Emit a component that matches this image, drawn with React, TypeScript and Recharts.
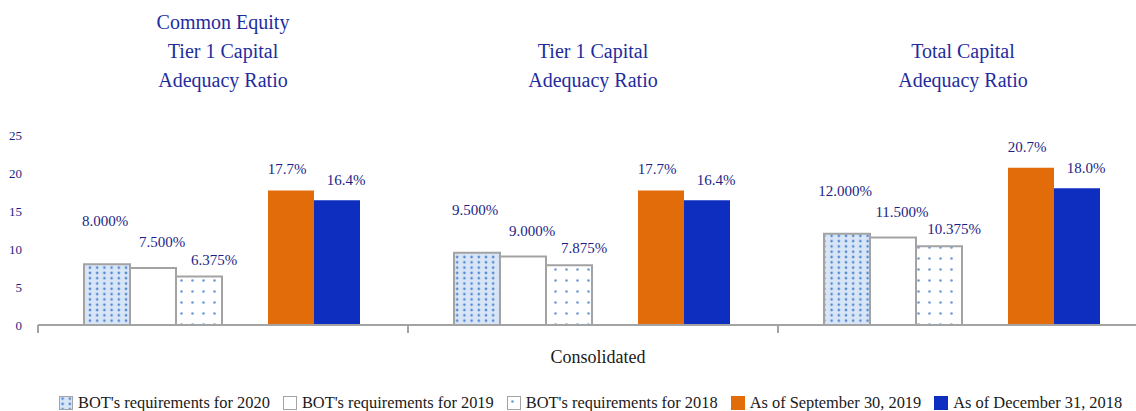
import React from "react";
import {
  BarChart,
  Bar,
  XAxis,
  YAxis,
  Legend,
  LabelList,
} from "recharts";

const categories = ["CET1", "Tier1", "Total"];
const titleLines = [
  ["Common Equity", "Tier 1 Capital", "Adequacy Ratio"],
  ["Tier 1 Capital", "Adequacy Ratio"],
  ["Total Capital", "Adequacy Ratio"],
];
const req2020 = [8.0, 9.5, 12.0];
const req2019 = [7.5, 9.0, 11.5];
const req2018 = [6.375, 7.875, 10.375];
const sep2019 = [17.7, 17.7, 20.7];
const dec2018 = [16.4, 16.4, 18.0];
const yTicks = [0, 5, 10, 15, 20, 25];
const seriesNames = [
  "BOT's requirements for 2020",
  "BOT's requirements for 2019",
  "BOT's requirements for 2018",
  "As of September 30, 2019",
  "As of December 31, 2018",
];

const SERIF = '"Liberation Serif", "Times New Roman", serif';
const NAVY = "#1c1f86";
const ORANGE = "#e36c0a";
const BLUE = "#0d2ebf";
const GREY = "#a3a3a3";

const data = categories.map((name, i) => ({
  name,
  req2020: req2020[i],
  req2019: req2019[i],
  req2018: req2018[i],
  sep2019: sep2019[i],
  dec2018: dec2018[i],
}));

// pattern fills, reused by bars and legend icons
function Patterns({ prefix }: { prefix: string }) {
  return (
    <defs>
      <pattern id={`${prefix}-dense`} width="7.2" height="5.3" patternUnits="userSpaceOnUse">
        <rect width="7.2" height="5.3" fill="#d8e5f6" />
        <circle cx="3.6" cy="2.65" r="1.3" fill="#4f86d2" />
      </pattern>
      <pattern id={`${prefix}-sparse`} width="11" height="11" patternUnits="userSpaceOnUse">
        <rect width="11" height="11" fill="#ffffff" />
        <circle cx="5.5" cy="5.5" r="1.3" fill="#6b9ad6" />
      </pattern>
    </defs>
  );
}

function makeLabel(dx: number, dy: number, digits: number) {
  return (props: any) => {
    const { x, y, width, value } = props;
    if (value == null) return null;
    return (
      <text
        x={Number(x) + Number(width) / 2 + dx}
        y={Number(y) + dy}
        textAnchor="middle"
        dominantBaseline="central"
        fill={NAVY}
        fontSize={15}
        fontFamily={SERIF}
      >
        {Number(value).toFixed(digits)}%
      </text>
    );
  };
}

function TitleTick(props: any) {
  const { x, y, index } = props;
  const lines = titleLines[index] || [];
  return (
    <g>
      {lines.map((line, i) => (
        <text
          key={i}
          x={x}
          y={y - 48 - (lines.length - 1 - i) * 29}
          textAnchor="middle"
          fill="#1f2c9c"
          fontSize={20}
          fontFamily={SERIF}
        >
          {line}
        </text>
      ))}
    </g>
  );
}

// tick marks sit between categories, not under them
function BoundaryTick(props: any) {
  const { x, y, payload, width, visibleTicksCount } = props;
  const half =
    payload && payload.offset ? payload.offset : Number(width) / Number(visibleTicksCount) / 2;
  const bx = x - half;
  return <line x1={bx} x2={bx} y1={y} y2={y + 8} stroke={GREY} strokeWidth={2} />;
}

function LegendIcon({ kind }: { kind: number }) {
  const fills = ["url(#lg-dense)", "#ffffff", "url(#lg-sparse)", ORANGE, BLUE];
  const bordered = kind < 3;
  return (
    <svg width={14} height={14} style={{ display: "block" }}>
      <Patterns prefix="lg" />
      <rect
        x={0.5}
        y={0.5}
        width={13}
        height={13}
        fill={fills[kind]}
        stroke={bordered ? GREY : fills[kind]}
        strokeWidth={1}
      />
    </svg>
  );
}

function CustomLegend() {
  return (
    <div
      style={{
        display: "flex",
        alignItems: "center",
        height: 16,
        paddingLeft: 59,
        fontFamily: SERIF,
        fontSize: 16.4,
        color: "#1a1a1a",
        whiteSpace: "nowrap",
      }}
    >
      {seriesNames.map((name, i) => (
        <div key={name} style={{ display: "flex", alignItems: "center", marginRight: 13 }}>
          <LegendIcon kind={i} />
          <span style={{ marginLeft: 5 }}>{name}</span>
        </div>
      ))}
    </div>
  );
}

export default function App() {
  return (
    <div
      style={{
        position: "absolute",
        left: 0,
        top: 0,
        width: 1136,
        height: 411,
        overflow: "hidden",
        background: "#ffffff",
      }}
    >
      <BarChart
        width={1148}
        height={411}
        data={data}
        margin={{ top: 35, right: 0, bottom: 0, left: 0 }}
        barCategoryGap={46}
        barGap={0}
      >
        <Patterns prefix="bar" />
        <XAxis xAxisId="cat" dataKey="name" hide height={0} />
        <XAxis
          xAxisId="title"
          dataKey="name"
          orientation="top"
          height={100}
          axisLine={false}
          tickLine={false}
          tickSize={0}
          tickMargin={0}
          interval={0}
          tick={<TitleTick />}
        />
        <XAxis
          xAxisId="line"
          dataKey="name"
          height={70}
          interval={0}
          tickLine={false}
          tickSize={0}
          tickMargin={0}
          tick={<BoundaryTick />}
          axisLine={{ stroke: GREY, strokeWidth: 2 }}
          label={{
            value: "Consolidated",
            position: "insideTop",
            offset: 25,
            dx: 5,
            fill: "#1a1a1a",
            fontSize: 18,
            fontFamily: SERIF,
          }}
        />
        <YAxis
          width={38}
          domain={[0, 25]}
          ticks={yTicks}
          axisLine={false}
          tickLine={false}
          tickSize={0}
          tickMargin={16}
          tick={{ fill: NAVY, fontSize: 13, fontFamily: SERIF }}
        />
        <Legend verticalAlign="bottom" content={<CustomLegend />} wrapperStyle={{ left: 0, width: 1136, bottom: 0 }} />
        <Bar xAxisId="cat" dataKey="req2020" name={seriesNames[0]} fill="url(#bar-dense)" stroke={GREY} strokeWidth={2} isAnimationActive={false}>
          <LabelList dataKey="req2020" content={makeLabel(-2, -43, 3)} />
        </Bar>
        <Bar xAxisId="cat" dataKey="req2019" name={seriesNames[1]} fill="#ffffff" stroke={GREY} strokeWidth={2} isAnimationActive={false}>
          <LabelList dataKey="req2019" content={makeLabel(9, -26, 3)} />
        </Bar>
        <Bar xAxisId="cat" dataKey="req2018" name={seriesNames[2]} fill="url(#bar-sparse)" stroke={GREY} strokeWidth={2} isAnimationActive={false}>
          <LabelList dataKey="req2018" content={makeLabel(15, -17, 3)} />
        </Bar>
        <Bar xAxisId="cat" dataKey="spacer" fill="none" legendType="none" isAnimationActive={false} />
        <Bar xAxisId="cat" dataKey="sep2019" name={seriesNames[3]} fill={ORANGE} isAnimationActive={false}>
          <LabelList dataKey="sep2019" content={makeLabel(-4, -21, 1)} />
        </Bar>
        <Bar xAxisId="cat" dataKey="dec2018" name={seriesNames[4]} fill={BLUE} isAnimationActive={false}>
          <LabelList dataKey="dec2018" content={makeLabel(9, -20, 1)} />
        </Bar>
      </BarChart>
    </div>
  );
}
